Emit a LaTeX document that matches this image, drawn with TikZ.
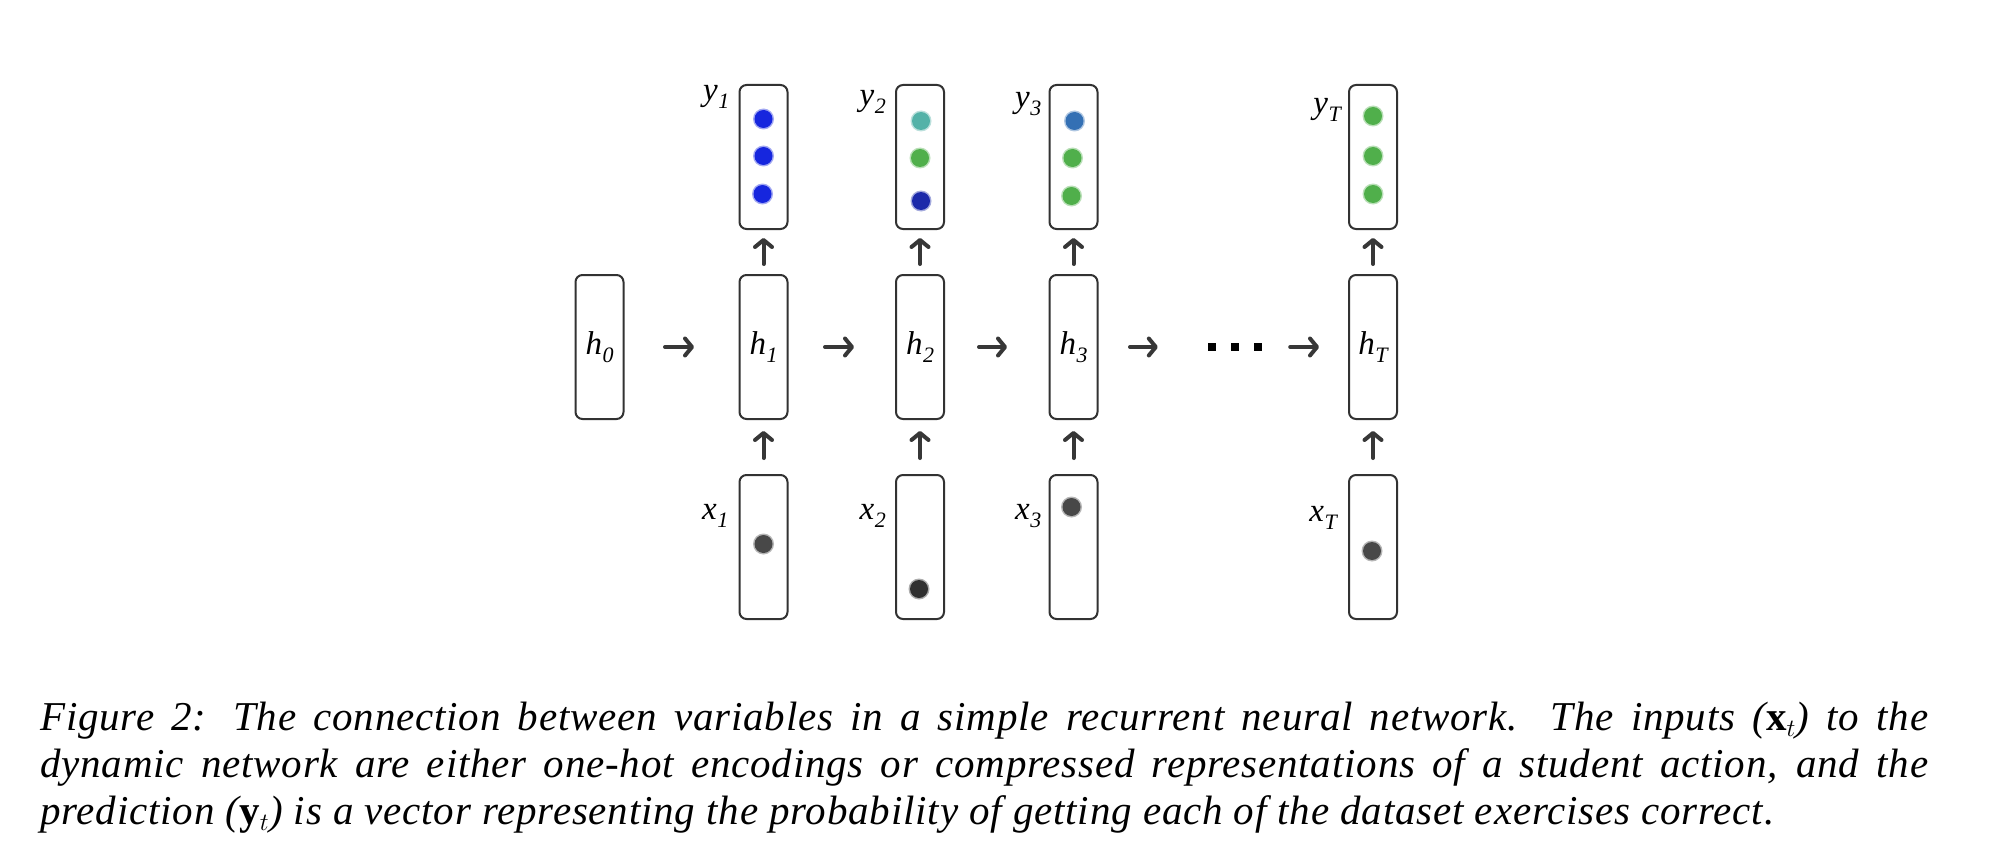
\documentclass[tikz,border=0pt]{standalone}
\usepackage{fontspec}
\setmainfont{Liberation Serif}
\newfontfamily\capfamily[LetterSpace=2]{Liberation Serif}
\usetikzlibrary{arrows.meta,calc}
\definecolor{boxc}{RGB}{50,50,50}
\definecolor{arrc}{RGB}{55,55,55}
\definecolor{cblue}{RGB}{22,38,222}
\definecolor{cteal}{RGB}{84,178,168}
\definecolor{cgreen}{RGB}{80,175,75}
\definecolor{cnavy}{RGB}{28,42,170}
\definecolor{csteel}{RGB}{52,112,180}
\definecolor{cgray}{RGB}{72,72,72}
\definecolor{cdark}{RGB}{48,48,48}
\newcommand\labfont{\fontsize{33}{36}\selectfont\itshape}
\newcommand\capfont{\capfamily\fontsize{41}{47}\selectfont\itshape}
\newcommand\vlab[2]{#1\kern0.5pt\raisebox{-8pt}{\fontsize{22}{22}\selectfont\itshape #2}}
\newcommand\bdot[2]{\fill[#1!40] #2 circle[radius=10.5pt]; \fill[#1] #2 circle[radius=9pt];}
\begin{document}
\begin{tikzpicture}[x=1pt,y=-1pt,
  box/.style={draw=boxc, line width=2pt, rounded corners=7pt, minimum width=48pt,
    minimum height=144pt, inner sep=0pt, font=\labfont},
  lbl/.style={anchor=base east, inner sep=0pt, font=\labfont},
  arr/.style={draw=arrc, line width=4pt, line cap=round,
    -{Straight Barb[length=7pt,width=17pt,line join=round,line cap=round]}},
  harr/.style={arr},
  varr/.style={arr, shorten <=10pt, shorten >=8pt},
  xarr/.style={arr, shorten <=16pt, shorten >=11pt}]
\useasboundingbox[fill=white] (0,0) rectangle (1992,864);

% boxes
\node[box] (h0) at (599.5,347) {\vlab{h}{0}};
\node[box] (y1) at (763.5,157) {};
\node[box] (h1) at (763.5,347) {\vlab{h}{1}};
\node[box] (x1) at (763.5,547) {};
\node[box] (y2) at (920,157) {};
\node[box] (h2) at (920,347) {\vlab{h}{2}};
\node[box] (x2) at (920,547) {};
\node[box] (y3) at (1073.5,157) {};
\node[box] (h3) at (1073.5,347) {\vlab{h}{3}};
\node[box] (x3) at (1073.5,547) {};
\node[box] (yT) at (1373,157) {};
\node[box] (hT) at (1373,347) {\vlab{h}{T}};
\node[box] (xT) at (1373,547) {};

% ellipsis
\node[minimum width=60pt, minimum height=10pt, inner sep=0pt] (dots) at (1235,347) {};
\foreach \dx in {-23,0,23}
  \fill ($(dots.center)+(\dx,0)+(-4,-4)$) rectangle ++(8,8);

% labels
\node[lbl] (ly1) at ($(y1.north west)+(-9,17)$) {\vlab{y}{1}};
\node[lbl] (ly2) at ($(y2.north west)+(-9,22)$) {\vlab{y}{2}};
\node[lbl] (ly3) at ($(y3.north west)+(-7,24)$) {\vlab{y}{3}};
\node[lbl] (lyT) at ($(yT.north west)+(-7,30)$) {\vlab{y}{T}};
\node[lbl] (lx1) at ($(x1.north west)+(-10,45)$) {\vlab{x}{1}};
\node[lbl] (lx2) at ($(x2.north west)+(-9,45)$) {\vlab{x}{2}};
\node[lbl] (lx3) at ($(x3.north west)+(-7,45)$) {\vlab{x}{3}};
\node[lbl] (lxT) at ($(xT.north west)+(-11,47)$) {\vlab{x}{T}};

% output dots
\bdot{cblue}{($(y1.north)+(0,35)$)}
\bdot{cblue}{($(y1.north)+(0,72)$)}
\bdot{cblue}{($(y1.north)+(-1,110)$)}
\bdot{cteal}{($(y2.north)+(1,37)$)}
\bdot{cgreen}{($(y2.north)+(0,74)$)}
\bdot{cnavy}{($(y2.north)+(1,117)$)}
\bdot{csteel}{($(y3.north)+(1,37)$)}
\bdot{cgreen}{($(y3.north)+(-1,74)$)}
\bdot{cgreen}{($(y3.north)+(-2,112)$)}
\bdot{cgreen}{($(yT.north)+(0,32)$)}
\bdot{cgreen}{($(yT.north)+(0,72)$)}
\bdot{cgreen}{($(yT.north)+(0,110)$)}

% input dots
\bdot{cgray}{($(x1.north)+(0,70)$)}
\bdot{cdark}{($(x2.north)+(-1,115)$)}
\bdot{cgray}{($(x3.north)+(-2,33)$)}
\bdot{cgray}{($(xT.north)+(-1,77)$)}

% horizontal arrows
\draw[harr, shorten <=40.5pt, shorten >=44.5pt] (h0.east) -- (h1.west);
\draw[harr, shorten <=36.5pt, shorten >=41pt] (h1.east) -- (h2.west);
\draw[harr, shorten <=34pt, shorten >=41.5pt] (h2.east) -- (h3.west);
\draw[harr, shorten <=31.5pt, shorten >=47pt] (h3.east) -- (dots.west);
\draw[harr, shorten <=25pt, shorten >=29pt] (dots.east) -- (hT.west);

% vertical arrows
\foreach \c in {1,2,3,T} {
  \draw[varr] (h\c.north) -- (y\c.south);
  \draw[xarr] (x\c.north) -- (h\c.south);
}

% caption
\node[anchor=north west, inner sep=0pt, text width=1888pt, align=justify, font=\capfont] (cap) at (40,697)
{\strut Figure 2: The connection between variables in a simple recurrent neural network. The inputs ($\mathbf{x}_t$) to the\linebreak
dynamic network are either one-hot encodings or compressed representations of a student action, and the\linebreak
prediction ($\mathbf{y}_t$) is a vector representing the probability of getting each of the dataset exercises correct.};
\end{tikzpicture}
\end{document}
